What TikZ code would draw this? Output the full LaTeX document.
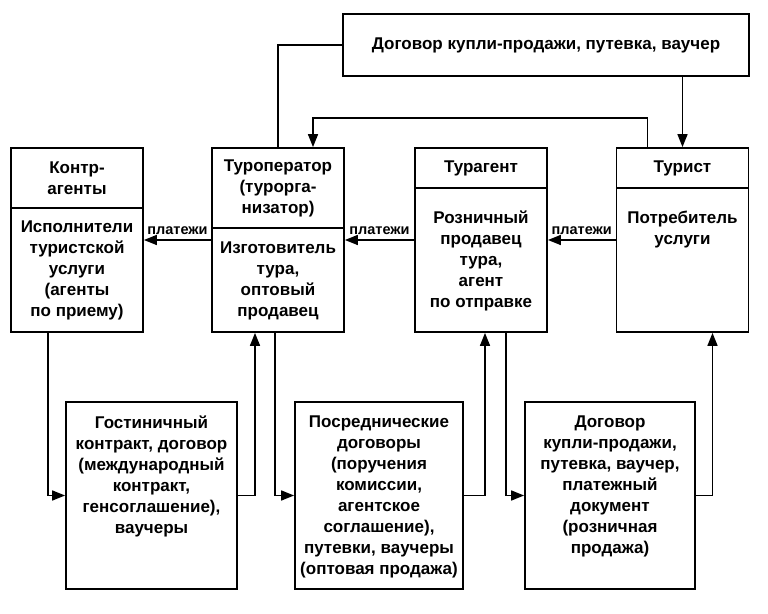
\documentclass[tikz,border=0pt]{standalone}
\usepackage{fontspec}
\setmainfont{Liberation Sans}
\usetikzlibrary{arrows.meta, positioning, calc}

\begin{document}
\begin{tikzpicture}[x=1pt, y=1pt,
        box/.style = {draw, line width=1.8pt, inner sep=0pt},
        txt/.style = {align=center, inner sep=0pt, font=\fontsize{17}{21}\selectfont\bfseries},
        wire/.style = {line width=1.6pt},
        link/.style = {wire, -{Triangle[length=13pt, width=10pt]}},
        pay/.style = {above, yshift=4pt, inner sep=1pt, font=\fontsize{14.5}{17}\selectfont\bfseries}
    ]
    \useasboundingbox (0, 0) rectangle (768, 613);

    \node[box, txt, minimum width=406, minimum height=62] (deal) at (546, 568)
        {Договор купли-продажи, путевка, ваучер};

    % участники
    \path[every node/.style = {box, minimum width=132, minimum height=184}]
        (77, 373) node (kontr) {}
        (278, 373) node (oper) {}
        (481, 373) node (agent) {}
        (682.5, 373) node (turist) {}
    ;
    \path[every node/.style = {box, txt, minimum width=132, anchor=north}]
        (kontr.north) node[minimum height=60] (kontrhead) {Контр-\\агенты}
        (oper.north) node[minimum height=80] (operhead) {Туроператор\\(турорга-\\низатор)}
        (agent.north) node[minimum height=40] (agenthead) {Турагент}
        (turist.north) node[minimum height=40] (turisthead) {Турист}
    ;
    \path[every node/.style = {txt}]
        ($(kontrhead.south)!0.5!(kontr.south)$) node (kontrtext)
            {Исполнители\\туристской\\услуги\\(агенты\\по приему)}
        ($(operhead.south)!0.5!(oper.south)$) node (opertext)
            {Изготовитель\\тура,\\оптовый\\продавец}
        ($(agenthead.south)!0.5!(agent.south)$) node (agenttext)
            {Розничный\\продавец\\тура,\\агент\\по отправке}
    ;
    \node[txt, anchor=north] (turisttext) at (agenttext.north -| turist) {Потребитель\\услуги};

    % договоры
    \path[every node/.style = {box, minimum height=187}]
        (151.5, 117.5) node[minimum width=171] (gost) {}
        (379, 117.5) node[minimum width=168] (posr) {}
        (610, 117.5) node[minimum width=170] (sale) {}
    ;
    \node[txt, below=15pt of gost.north] (gosttext)
        {Гостиничный\\контракт, договор\\(международный\\контракт,\\генсоглашение),\\ваучеры};
    \node[txt, below=15pt of posr.north] (posrtext)
        {Посреднические\\договоры\\(поручения\\комиссии,\\агентское\\соглашение),\\путевки, ваучеры\\(оптовая продажа)};
    \node[txt, below=15pt of sale.north] (saletext)
        {Договор\\купли-продажи,\\путевка, ваучер,\\платежный\\документ\\(розничная\\продажа)};

    % связи
    \draw[wire] (deal.west) -| (oper.north);
    \draw[link] (deal.south -| turist) -- (turist.north);
    \draw[link] ([xshift=-35pt]turist.north) -- ++(0, 29) -| ([xshift=35pt]oper.north);

    \draw[link] (oper.west) -- (kontr.east) node[pay, midway] (pay1) {платежи};
    \draw[link] (agent.west) -- (oper.east) node[pay, midway] (pay2) {платежи};
    \draw[link] (turist.west) -- (agent.east) node[pay, midway] (pay3) {платежи};

    \draw[link] ([xshift=-29pt]kontr.south) |- (gost.west);
    \draw[link] (gost.east) -| ([xshift=-23pt]oper.south);
    \draw[link] ([xshift=-3pt]oper.south) |- (posr.west);
    \draw[link] (posr.east) -| ([xshift=4pt]agent.south);
    \draw[link] ([xshift=25pt]agent.south) |- (sale.west);
    \draw[link] (sale.east) -| ([xshift=30pt]turist.south);
\end{tikzpicture}
\end{document}
